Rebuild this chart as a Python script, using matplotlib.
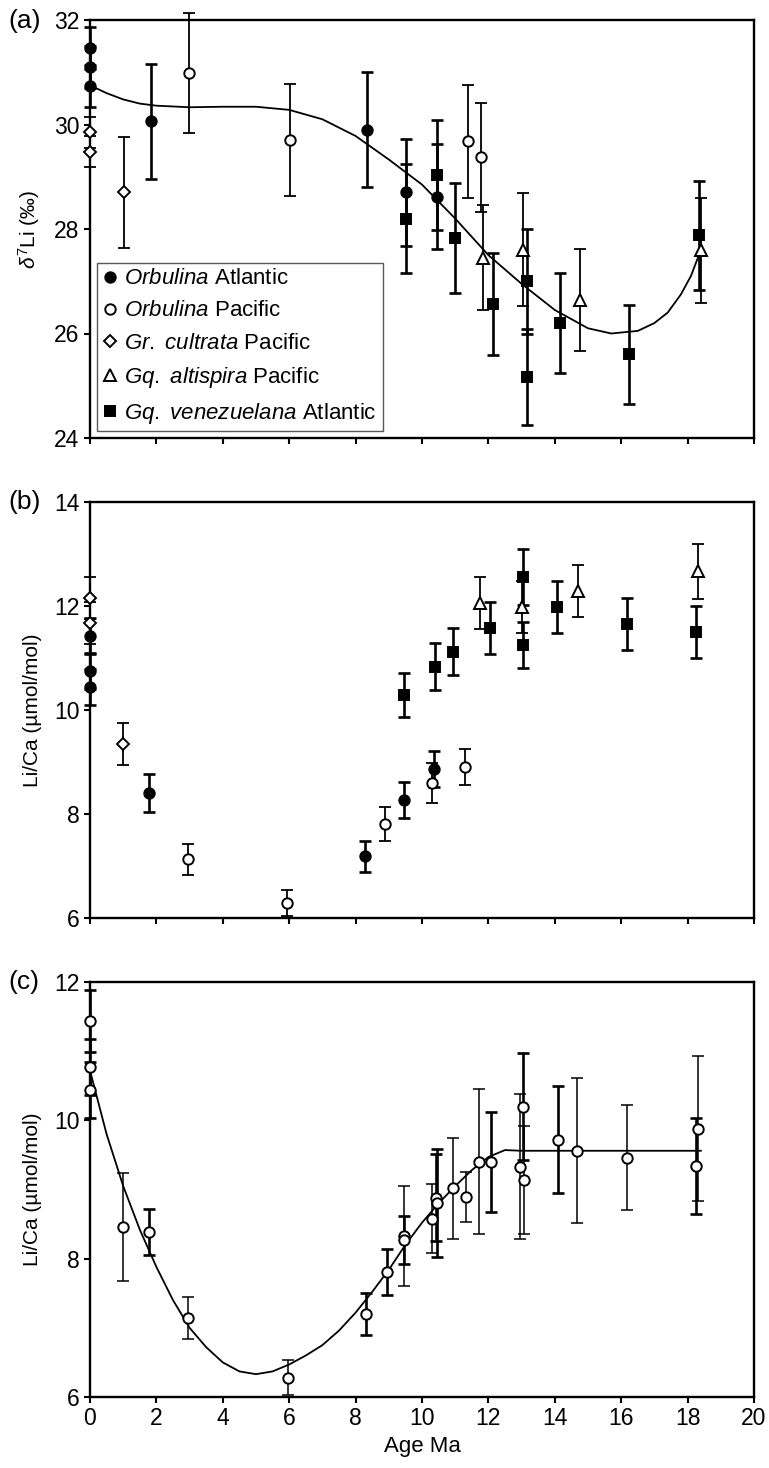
import matplotlib
matplotlib.use("Agg")
import matplotlib.pyplot as plt
from matplotlib.lines import Line2D

plt.rcParams["font.family"] = ["Liberation Sans", "DejaVu Sans"]
plt.rcParams["mathtext.fontset"] = "custom"
plt.rcParams["mathtext.rm"] = "Liberation Sans"
plt.rcParams["mathtext.it"] = "Liberation Sans:italic"

x_ticks = list(range(0, 21, 2))

# ---- (a) d7Li ----
a_orb_atl_age = [0.0, 0.0, 0.0, 1.84, 8.34, 9.52, 10.45]
a_orb_atl_val = [31.46, 31.1, 30.73, 30.06, 29.9, 28.7, 28.62]
a_orb_atl_err = [0.4, 0.4, 0.4, 1.1, 1.1, 1.03, 1.0]

a_orb_pac_age = [2.98, 6.02, 11.4, 11.78]
a_orb_pac_val = [30.98, 29.7, 29.68, 29.37]
a_orb_pac_err = [1.15, 1.07, 1.08, 1.05]

a_cult_age = [0.0, 0.0, 1.03]
a_cult_val = [29.85, 29.48, 28.7]
a_cult_err = [0.3, 0.3, 1.06]

a_alt_age = [11.83, 13.05, 14.76, 18.4]
a_alt_val = [27.45, 27.6, 26.64, 27.59]
a_alt_err = [1.0, 1.08, 0.98, 1.0]

a_ven_age = [9.52, 10.45, 10.99, 12.14, 13.16, 13.16, 14.16, 16.24, 18.34]
a_ven_val = [28.2, 29.04, 27.83, 26.57, 27.0, 25.17, 26.2, 25.6, 27.88]
a_ven_err = [1.05, 1.05, 1.05, 0.98, 1.0, 0.92, 0.95, 0.95, 1.04]

a_fit_age = [0, 0.5, 1, 1.5, 2, 3, 4, 5, 6, 7, 8, 9, 10, 11, 12, 13, 14,
             15, 15.7, 16.5, 17.0, 17.4, 17.8, 18.1, 18.4]
a_fit_val = [30.75, 30.6, 30.48, 30.4, 30.36, 30.33, 30.34, 30.34, 30.28,
             30.1, 29.78, 29.33, 28.85, 28.2, 27.5, 26.95, 26.45, 26.1,
             26.0, 26.05, 26.2, 26.4, 26.75, 27.1, 27.6]

# ---- (b) Li/Ca ----
b_orb_atl_age = [0.0, 0.0, 0.0, 1.78, 8.28, 9.46, 10.36]
b_orb_atl_val = [11.42, 10.75, 10.44, 8.4, 7.19, 8.27, 8.87]
b_orb_atl_err = [0.35, 0.35, 0.35, 0.37, 0.3, 0.35, 0.35]

b_orb_pac_age = [2.95, 5.93, 8.9, 10.3, 11.3]
b_orb_pac_val = [7.13, 6.29, 7.81, 8.6, 8.9]
b_orb_pac_err = [0.3, 0.25, 0.32, 0.38, 0.35]

b_cult_age = [0.0, 0.0, 0.98]
b_cult_val = [12.15, 11.67, 9.35]
b_cult_err = [0.4, 0.4, 0.4]

b_alt_age = [11.75, 13.0, 14.7, 18.3]
b_alt_val = [12.06, 11.98, 12.29, 12.67]
b_alt_err = [0.5, 0.5, 0.5, 0.53]

b_ven_age = [9.46, 10.39, 10.94, 12.05, 13.05, 13.05, 14.07, 16.17, 18.25]
b_ven_val = [10.29, 10.83, 11.12, 11.58, 12.56, 11.25, 11.98, 11.65, 11.5]
b_ven_err = [0.43, 0.45, 0.45, 0.5, 0.54, 0.45, 0.5, 0.5, 0.5]

# ---- (c) corrected Li/Ca ----
c_thin_age = [0.99, 2.95, 5.97, 9.46, 10.3, 10.93, 11.32, 11.72, 12.95,
              13.08, 14.67, 16.17, 18.3]
c_thin_val = [8.46, 7.14, 6.28, 8.33, 8.58, 9.02, 8.89, 9.4, 9.33,
              9.14, 9.56, 9.46, 9.88]
c_thin_err = [0.78, 0.3, 0.25, 0.72, 0.5, 0.73, 0.36, 1.05, 1.05,
              0.78, 1.05, 0.76, 1.05]

c_thick_age = [0.0, 0.0, 0.0, 1.78, 8.3, 8.95, 9.46, 10.42, 10.45, 12.08,
               13.05, 14.1, 18.25]
c_thick_val = [11.44, 10.77, 10.44, 8.39, 7.2, 7.81, 8.27, 8.88, 8.81, 9.4,
               10.2, 9.72, 9.34]
c_thick_err = [0.45, 0.4, 0.4, 0.33, 0.3, 0.33, 0.35, 0.63, 0.78, 0.72,
               0.78, 0.77, 0.7]

c_fit_age = [0, 0.5, 1, 1.5, 2, 2.5, 3, 3.5, 4, 4.5, 5, 5.5, 6, 6.5, 7,
             7.5, 8, 8.5, 9, 9.5, 10, 10.5, 11, 11.5, 12, 12.5, 13, 18.4]
c_fit_val = [10.72, 9.8, 9.05, 8.42, 7.88, 7.4, 7.0, 6.72, 6.5, 6.37,
             6.33, 6.37, 6.47, 6.6, 6.75, 6.96, 7.22, 7.52, 7.84, 8.2,
             8.52, 8.8, 9.05, 9.28, 9.47, 9.57, 9.56, 9.56]

legend_labels = [
    r"$\mathit{Orbulina}$ Atlantic",
    r"$\mathit{Orbulina}$ Pacific",
    r"$\mathit{Gr.\ cultrata}$ Pacific",
    r"$\mathit{Gq.\ altispira}$ Pacific",
    r"$\mathit{Gq.\ venezuelana}$ Atlantic",
]

styles = [
    dict(marker="o", mfc="black", ms=7.5, lw=1.9),
    dict(marker="o", mfc="white", ms=7.5, lw=1.3),
    dict(marker="D", mfc="white", ms=6.5, lw=1.3),
    dict(marker="^", mfc="white", ms=9, lw=1.3),
    dict(marker="s", mfc="black", ms=6.8, lw=1.9),
]


def draw_series(ax, age, val, err, style):
    eb = ax.errorbar(age, val, yerr=err, fmt="none", ecolor="black",
                     elinewidth=style["lw"], capsize=4, capthick=style["lw"],
                     zorder=2)
    for artist in eb.lines[1] + eb.lines[2]:
        artist.set_clip_on(False)
    ax.plot(age, val, ls="none", marker=style["marker"], ms=style["ms"],
            mfc=style["mfc"], mec="black", mew=1.4, zorder=3, clip_on=False)


def style_axes(ax, ylim, yticks, show_x):
    ax.set_xlim(0, 20)
    ax.set_ylim(*ylim)
    ax.set_xticks(x_ticks)
    ax.set_yticks(yticks)
    ax.tick_params(direction="out", length=4.5, width=1.5, labelsize=16.5,
                   pad=3)
    if not show_x:
        ax.tick_params(axis="x", labelbottom=False)
    for side in ax.spines.values():
        side.set_linewidth(1.7)


fig = plt.figure(figsize=(7.69, 14.68), dpi=100)
left, width = 90 / 769, 664 / 769
ax_a = fig.add_axes([left, 1 - 438 / 1468, width, 418 / 1468])
ax_b = fig.add_axes([left, 1 - 918 / 1468, width, 416 / 1468])
ax_c = fig.add_axes([left, 1 - 1397 / 1468, width, 415 / 1468])

a_sets = [
    (a_orb_atl_age, a_orb_atl_val, a_orb_atl_err),
    (a_orb_pac_age, a_orb_pac_val, a_orb_pac_err),
    (a_cult_age, a_cult_val, a_cult_err),
    (a_alt_age, a_alt_val, a_alt_err),
    (a_ven_age, a_ven_val, a_ven_err),
]
b_sets = [
    (b_orb_atl_age, b_orb_atl_val, b_orb_atl_err),
    (b_orb_pac_age, b_orb_pac_val, b_orb_pac_err),
    (b_cult_age, b_cult_val, b_cult_err),
    (b_alt_age, b_alt_val, b_alt_err),
    (b_ven_age, b_ven_val, b_ven_err),
]

ax_a.plot(a_fit_age, a_fit_val, color="black", lw=1.3, zorder=1)
for (age, val, err), st in zip(a_sets, styles):
    draw_series(ax_a, age, val, err, st)
for (age, val, err), st in zip(b_sets, styles):
    draw_series(ax_b, age, val, err, st)

ax_c.plot(c_fit_age, c_fit_val, color="black", lw=1.3, zorder=1)
draw_series(ax_c, c_thin_age, c_thin_val, c_thin_err, dict(styles[1], lw=1.1))
draw_series(ax_c, c_thick_age, c_thick_val, c_thick_err, dict(styles[1], lw=1.9))

style_axes(ax_a, (24, 32), [24, 26, 28, 30, 32], False)
style_axes(ax_b, (6, 14), [6, 8, 10, 12, 14], False)
style_axes(ax_c, (6, 12), [6, 8, 10, 12], True)

ax_a.set_ylabel(r"$\delta^7$Li (‰)", fontsize=15)
ax_b.set_ylabel("Li/Ca (µmol/mol)", fontsize=15)
ax_c.set_ylabel("Li/Ca (µmol/mol)", fontsize=15)
for ax in (ax_a, ax_b, ax_c):
    ax.yaxis.set_label_coords(-0.072, 0.5)
ax_c.set_xlabel("Age Ma", fontsize=16, labelpad=4)

handles = [Line2D([], [], ls="none", marker=st["marker"], ms=st["ms"],
                  mfc=st["mfc"], mec="black", mew=1.4) for st in styles]
leg = ax_a.legend(handles, legend_labels, loc="lower left", fontsize=16,
                  handlelength=0.7, handletextpad=0.3, labelspacing=0.5,
                  borderpad=0.25, borderaxespad=0.3, fancybox=False,
                  framealpha=1, edgecolor="0.35")
leg.get_frame().set_linewidth(1.0)

for label, ypix in [("(a)", 21), ("(b)", 502), ("(c)", 982)]:
    fig.text(8 / 769, 1 - ypix / 1468, label, fontsize=19, va="center",
             ha="left")

fig.savefig("out.png", dpi=100)
plt.close(fig)
